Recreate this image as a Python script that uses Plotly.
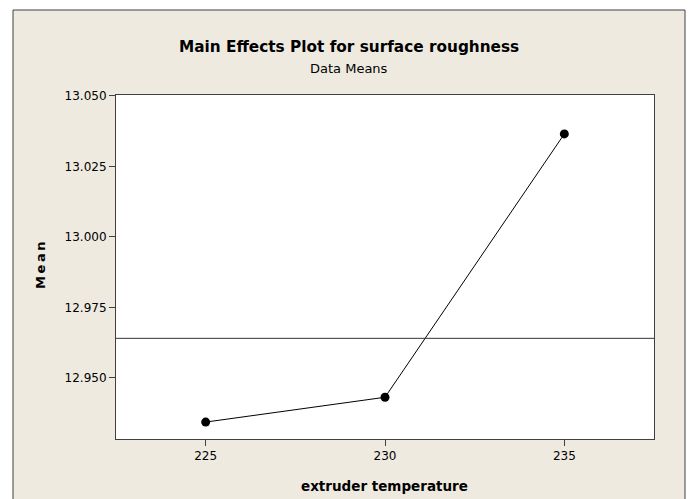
import plotly.graph_objects as go

# Data
temperature = [225, 230, 235]
mean_roughness = [12.9343, 12.9431, 13.0365]
grand_mean = 12.964
y_ticks = [12.950, 12.975, 13.000, 13.025, 13.050]
x_ticks = [225, 230, 235]

W, H = 690, 499
L, R, T, B = 116, 654, 95, 439  # plot area in pixels

def px(x):
    return (x - L) / (R - L)

def py(y):
    return (B - y) / (B - T)

BEIGE = "#EEEAE0"
FONT = "DejaVu Sans"

fig = go.Figure()
fig.add_trace(go.Scatter(
    x=temperature, y=mean_roughness, mode="lines+markers",
    line=dict(color="black", width=1),
    marker=dict(color="black", size=9, symbol="circle"),
    showlegend=False, hoverinfo="skip",
))

fig.update_layout(
    width=W, height=H,
    margin=dict(l=L, r=W - R, t=T, b=H - B, pad=0),
    paper_bgcolor="white",
    plot_bgcolor="white",
    font=dict(family=FONT, size=12, color="black"),
    xaxis=dict(
        range=[222.5, 237.5], tickvals=x_ticks, ticktext=[str(v) for v in x_ticks],
        showgrid=False, zeroline=False, showline=True, mirror=True,
        linecolor="#404040", linewidth=1, ticks="outside", ticklen=6,
        tickcolor="#404040", tickfont=dict(size=12, family=FONT),
    ),
    yaxis=dict(
        range=[12.9283, 13.0503], tickvals=y_ticks,
        ticktext=[f"{v:.3f}" for v in y_ticks],
        showgrid=False, zeroline=False, showline=True, mirror=True,
        linecolor="#404040", linewidth=1, ticks="outside", ticklen=6,
        tickcolor="#404040", tickfont=dict(size=12, family=FONT),
    ),
    shapes=[
        dict(type="rect", xref="paper", yref="paper", layer="below",
             x0=px(13), x1=px(685), y0=py(530), y1=py(10),
             fillcolor=BEIGE, line=dict(color="#404040", width=1)),
        dict(type="rect", xref="paper", yref="paper", layer="below",
             x0=0, x1=1, y0=0, y1=1,
             fillcolor="white", line=dict(width=0)),
        dict(type="line", xref="x domain", yref="y", layer="above",
             x0=0, x1=1, y0=grand_mean, y1=grand_mean,
             line=dict(color="#333333", width=1)),
    ],
    annotations=[
        dict(text="<b>Main Effects Plot for surface roughness</b>", xref="paper", yref="paper",
             x=px(349), y=py(47), xanchor="center", yanchor="middle", showarrow=False,
             font=dict(size=15.3, family=FONT, color="black")),
        dict(text="Data Means", xref="paper", yref="paper",
             x=px(349), y=py(68), xanchor="center", yanchor="middle", showarrow=False,
             font=dict(size=13, family=FONT, color="black")),
        dict(text="<b>M\u2009e\u2009a\u2009n</b>", xref="paper", yref="paper", textangle=-90,
             x=px(40), y=py(265), xanchor="center", yanchor="middle", showarrow=False,
             font=dict(size=13, family=FONT, color="black")),
        dict(text="<b>extruder temperature</b>", xref="paper", yref="paper",
             x=px(384), y=py(486), xanchor="center", yanchor="middle", showarrow=False,
             font=dict(size=13.5, family=FONT, color="black")),
    ],
)

fig.write_html("out.html", config={"displayModeBar": False},
               post_script="document.body.style.margin='0';")
